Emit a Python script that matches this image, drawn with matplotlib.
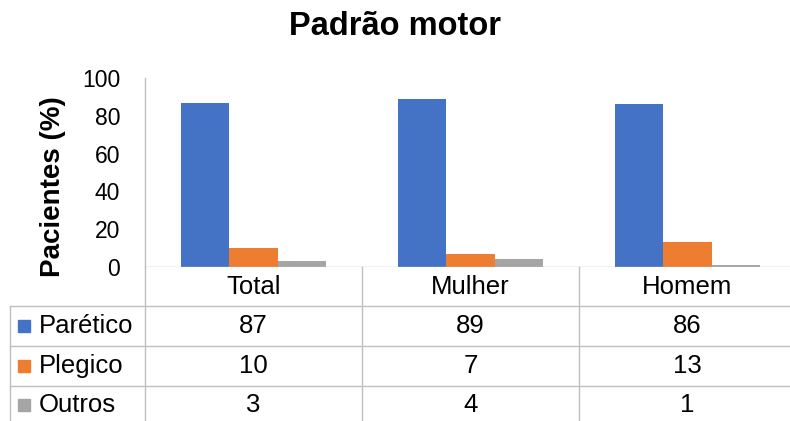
import matplotlib.pyplot as plt
import numpy as np
from matplotlib.patches import Rectangle

plt.rcParams['font.family'] = ['Liberation Sans', 'DejaVu Sans']

categorias = ["Total", "Mulher", "Homem"]
series = ["Parético", "Plegico", "Outros"]
paretico = [87, 89, 86]
plegico = [10, 7, 13]
outros = [3, 4, 1]
yticks = [0, 20, 40, 60, 80, 100]

valores = [paretico, plegico, outros]
cores = ["#4472C4", "#ED7D31", "#A5A5A5"]
cor_linha = "#BFBFBF"

W, H = 790, 421
fig = plt.figure(figsize=(W / 100, H / 100), dpi=100)

# area do grafico em pixels (esq, baixo, largura, altura)
ax_l, ax_b, ax_w, ax_h = 145, 421 - 267, 651, 189
ax = fig.add_axes([ax_l / W, ax_b / H, ax_w / W, ax_h / H])

x = np.arange(len(categorias))
larg = 0.222
for i, (vals, cor) in enumerate(zip(valores, cores)):
    ax.bar(x + (i - 1) * larg, vals, width=larg, color=cor, zorder=2)

ax.set_xlim(-0.5, 2.5)
ax.set_ylim(0, 100)
ax.set_yticks(yticks)
ax.set_yticklabels([str(v) for v in yticks], fontsize=16.5)
ax.tick_params(axis='y', length=0, pad=18)
ax.set_xticks([])
for s in ["top", "right", "bottom"]:
    ax.spines[s].set_visible(False)
ax.spines["left"].set_color(cor_linha)
ax.spines["left"].set_linewidth(1)
ax.axhline(0, color=cor_linha, lw=1, zorder=3)

ax.set_ylabel("Pacientes (%)", fontsize=20, fontweight="bold")
ax.yaxis.set_label_coords((66 - ax_l) / ax_w, (267 - 187) / ax_h)
fig.suptitle("Padrão motor", fontsize=23.5, fontweight="bold", y=0.975)

# tabela de dados (estilo Excel)
def py(p):
    # pixel y -> fracao do eixo
    return (267 - p) / ax_h

def px(p):
    return (p - ax_l) / ax_w

trans_ax = ax.transAxes
trans_x = ax.get_xaxis_transform()
limites = [306, 346, 386]
for p in limites:
    ax.plot([px(10), 1.2], [py(p), py(p)], color=cor_linha, lw=1,
            transform=trans_ax, clip_on=False)
ax.plot([px(10), px(10)], [py(306), py(425)], color=cor_linha, lw=1,
        transform=trans_ax, clip_on=False)
for xv in [-0.5, 0.5, 1.5]:
    ax.plot([xv, xv], [0, py(425)], color=cor_linha, lw=1,
            transform=trans_x, clip_on=False)

fs = 18.5
centros = [326, 366, 405]
for j, c in enumerate(categorias):
    ax.text(j, py(287), c, ha="center", va="center", fontsize=fs,
            transform=trans_x)
for i, (nome, vals, cor) in enumerate(zip(series, valores, cores)):
    yc = py(centros[i])
    ax.add_patch(Rectangle((px(18), yc - 6 / ax_h), 12 / ax_w, 12 / ax_h,
                           color=cor, transform=trans_ax, clip_on=False))
    ax.text(px(39), yc, nome, ha="left", va="center", fontsize=fs,
            transform=trans_ax)
    for j, v in enumerate(vals):
        ax.text(j, yc, str(v), ha="center", va="center", fontsize=fs,
                transform=trans_x)

fig.savefig("out.png", dpi=100)
